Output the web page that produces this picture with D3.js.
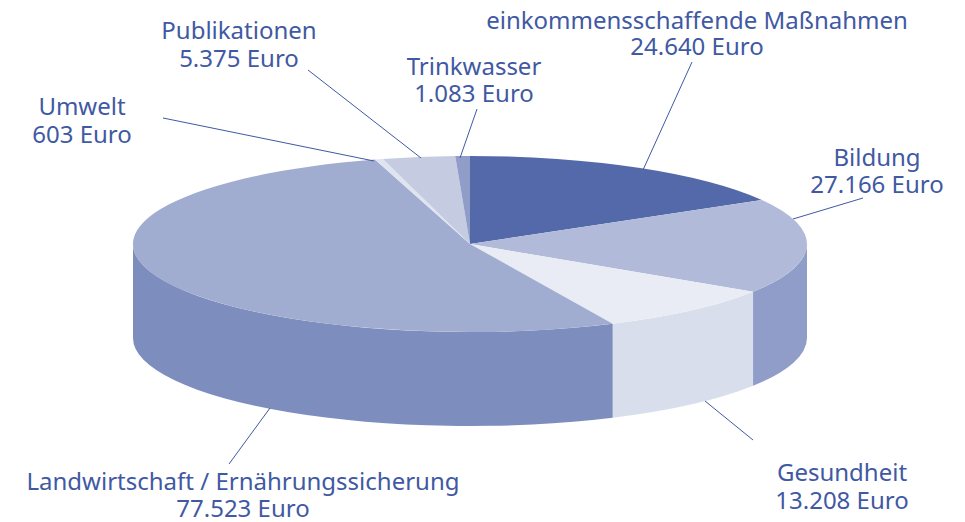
<!DOCTYPE html>
<html lang="de">
<head>
    <meta charset="UTF-8">
    <title>Projektausgaben</title>
    <style>
        body{
            margin: 0;
            background-color: white;
        }
        svg{
            display: block;
        }
        .label{
            font-family: "Noto Sans", sans-serif;
            font-size: 24px;
            fill: #3f59a3;
            text-anchor: middle;
        }
        .leader{
            stroke: #3f59a3;
            stroke-width: 1;
        }
    </style>
</head>
<body>
<div id="chart"></div>
<script src="https://d3js.org/d3.v7.min.js"></script>
<script>

// values in Euro, clockwise from 12 o'clock
let categories = ["einkommensschaffende Maßnahmen","Bildung","Gesundheit","Landwirtschaft / Ernährungssicherung","Umwelt","Publikationen","Trinkwasser"]
let values = [24640,27166,13208,77523,603,5375,1083]
let valueLabels = ["24.640 Euro","27.166 Euro","13.208 Euro","77.523 Euro","603 Euro","5.375 Euro","1.083 Euro"]

let topColors = ["#5469a9","#b1bbd9","#e9ecf5","#a0add0","#e0e4f0","#c5cce2","#8f9dc8"]
let sideColors = ["#3f5394","#8f9dc8","#d9deed","#7c8dbe","#c5cce2","#a0add0","#7c8dbe"]

// label centre x, first and second baseline
let labelX = [697,877,842,243,82,239,474]
let labelY1 = [29,166,481,490,115,39,75]
let labelY2 = [55,193,509,517,143,67,102]

// leader lines, label end then pie end
let leaders = [
    [692,62,643,170],
    [863,198,793,219],
    [753,440,705,401],
    [229,464,270,408],
    [163,118,374,161],
    [308,70,421,158],
    [477,109,460,158]
]

let width = 965,
    height = 522,
    cx = 470,
    cy = 244,
    rx = 337,
    ry = 88,
    depth = 94;

let svg = d3.select("#chart")
    .append("svg")
    .attr("width", width)
    .attr("height", height)

let flat = ry / rx

// the original 3d tilt pushes the front slices round a little, degrees in, degrees out
let tilt = d3.scaleLinear()
    .domain([0,59.3,124.7,156.4,343,360])
    .range([0,60,122.9,154.9,343.6,360])

let toRad = Math.PI / 180

let slices = d3.pie().sort(null)(values).map(d => ({
    startAngle: tilt(d.startAngle / toRad) * toRad,
    endAngle: tilt(d.endAngle / toRad) * toRad
}))

let arc = d3.arc().innerRadius(0).outerRadius(rx)

// everything inside is drawn as a circle and squashed to an ellipse
let disc = svg.append("g")
    .attr("transform", `translate(${cx},${cy}) scale(1,${flat})`)

// rim is only visible on the front half (90deg to 270deg from the top)
function wallPath(d){
    let a0 = Math.max(d.startAngle, Math.PI / 2) - Math.PI / 2
    let a1 = Math.min(d.endAngle, Math.PI * 1.5) - Math.PI / 2
    if (a1 <= a0) return null
    let p = d3.path()
    let drop = depth / flat
    p.arc(0, 0, rx, a0, a1)
    p.arc(0, drop, rx, a1, a0, true)
    p.closePath()
    return p.toString()
}

disc.selectAll(".wall")
    .data(slices)
    .join("path")
    .attr("class", "wall")
    .attr("d", wallPath)
    .style("fill", (d, i) => sideColors[i])

disc.selectAll(".top")
    .data(slices)
    .join("path")
    .attr("class", "top")
    .attr("d", arc)
    .style("fill", (d, i) => topColors[i])

svg.selectAll(".leader")
    .data(leaders)
    .join("line")
    .attr("class", "leader")
    .attr("x1", d => d[0])
    .attr("y1", d => d[1])
    .attr("x2", d => d[2])
    .attr("y2", d => d[3])

let labels = svg.selectAll(".label")
    .data(categories)
    .join("text")
    .attr("class", "label")

labels.append("tspan")
    .attr("x", (d, i) => labelX[i])
    .attr("y", (d, i) => labelY1[i])
    .text(d => d)

labels.append("tspan")
    .attr("x", (d, i) => labelX[i])
    .attr("y", (d, i) => labelY2[i])
    .text((d, i) => valueLabels[i])

</script>
</body>
</html>
